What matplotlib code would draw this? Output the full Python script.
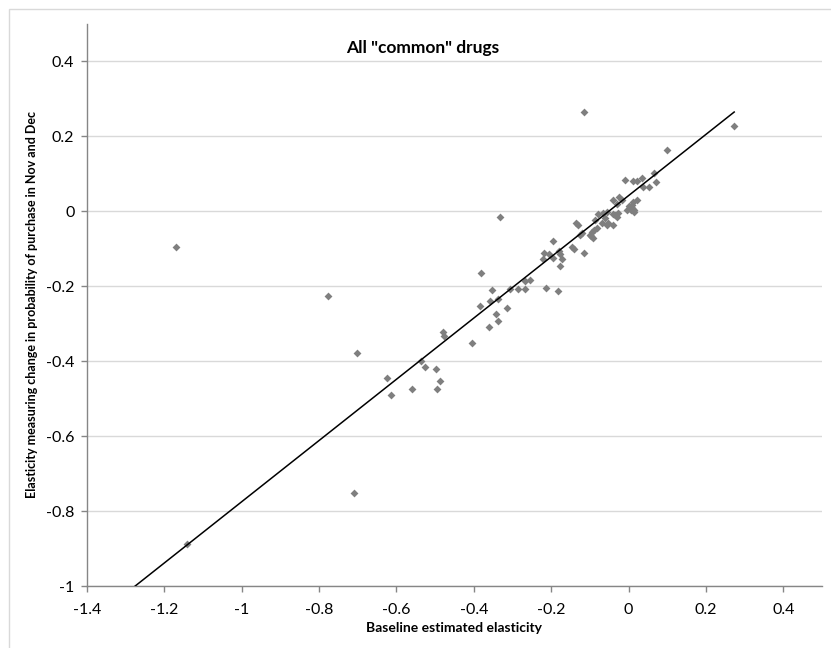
import matplotlib
matplotlib.use('Agg')
import matplotlib.pyplot as plt
from matplotlib.patches import Rectangle
import numpy as np

plt.rcParams['font.family'] = ['Lato', 'DejaVu Sans']

# Baseline elasticity (x) vs elasticity of Nov/Dec purchase probability (y)
baseline = [
    -1.171, -1.142, -0.776, -0.702, -0.709, -0.624, -0.613, -0.559, -0.537, -0.526,
    -0.498, -0.487, -0.496, -0.479, -0.476, -0.404, -0.383, -0.381, -0.360, -0.359,
    -0.354, -0.344, -0.338, -0.338, -0.332, -0.314, -0.306, -0.287, -0.269, -0.267,
    -0.254, -0.222, -0.219, -0.213, -0.205, -0.196, -0.195, -0.182, -0.180, -0.177,
    -0.176, -0.171, -0.146, -0.142, -0.135, -0.130, -0.125, -0.120, -0.114, -0.114,
    -0.100, -0.097, -0.094, -0.093, -0.089, -0.088, -0.082, -0.078, -0.069, -0.066,
    -0.062, -0.057, -0.057, -0.052, -0.041, -0.041, -0.041, -0.035, -0.031, -0.031,
    -0.027, -0.024, -0.017, -0.008, -0.004, 0.002, 0.005, 0.008, 0.010, 0.012,
    0.012, 0.013, 0.015, 0.021, 0.022, 0.035, 0.036, 0.054, 0.066, 0.070,
    0.100, 0.273,
]
nov_dec = [
    -0.095, -0.889, -0.225, -0.377, -0.752, -0.445, -0.489, -0.473, -0.400, -0.416,
    -0.421, -0.453, -0.474, -0.323, -0.334, -0.352, -0.253, -0.165, -0.308, -0.239,
    -0.210, -0.273, -0.292, -0.234, -0.014, -0.257, -0.206, -0.208, -0.206, -0.185,
    -0.184, -0.127, -0.111, -0.205, -0.114, -0.125, -0.080, -0.212, -0.105, -0.145,
    -0.113, -0.127, -0.096, -0.100, -0.031, -0.036, -0.063, -0.058, 0.264, -0.111,
    -0.063, -0.067, -0.054, -0.070, -0.049, -0.023, -0.045, -0.006, -0.030, -0.004,
    -0.018, -0.003, -0.036, -0.031, 0.031, -0.008, -0.036, -0.009, 0.020, -0.014,
    -0.005, 0.037, 0.031, 0.084, 0.003, 0.013, 0.004, 0.017, 0.009, 0.026,
    0.081, 0.004, -0.003, 0.081, 0.031, 0.089, 0.064, 0.064, 0.101, 0.079,
    0.164, 0.228,
]

# linear trendline
trend_slope = 0.817
trend_intercept = 0.042

x_ticks = [-1.4, -1.2, -1, -0.8, -0.6, -0.4, -0.2, 0, 0.2, 0.4]
y_ticks = [-1, -0.8, -0.6, -0.4, -0.2, 0, 0.2, 0.4]

W, H = 831, 648
fig = plt.figure(figsize=(W / 100, H / 100), dpi=100)

# chart border (cut off on right and bottom)
fig.patches.append(Rectangle((9 / W, -0.1), 1.2, 1.1 - 9 / H, transform=fig.transFigure,
                             fill=False, edgecolor='#d9d9d9', linewidth=1.0))

ax = fig.add_axes([87 / W, 62 / H, 735 / W, 562 / H])

ax.scatter(baseline, nov_dec, marker='D', s=16, color='#7f7f7f', linewidths=0, zorder=3)

tx = np.array([-1.4, max(baseline)])
ax.plot(tx, trend_intercept + trend_slope * tx, color='black', linewidth=1.1, zorder=4)

ax.set_xlim(-1.4, 0.5)
ax.set_ylim(-1, 0.5)
ax.set_xticks(x_ticks)
ax.set_yticks(y_ticks)
ax.set_xticklabels([f'{v:g}' for v in x_ticks])
ax.set_yticklabels([f'{v:g}' for v in y_ticks])

ax.grid(axis='y', color='#d9d9d9', linewidth=1.0)
ax.set_axisbelow(True)
for s in ['top', 'right']:
    ax.spines[s].set_visible(False)
for s in ['left', 'bottom']:
    ax.spines[s].set_color('#868686')
    ax.spines[s].set_linewidth(1.0)
ax.tick_params(axis='both', colors='#868686', labelcolor='black', labelsize=11.5,
               length=4, width=1.0)
ax.tick_params(axis='x', pad=8)
ax.tick_params(axis='y', pad=5)

ax.set_xlabel('Baseline estimated elasticity', fontsize=10, fontweight='bold', labelpad=4)
ax.set_ylabel('Elasticity measuring change in probability of purchase in Nov and Dec',
              fontsize=9, fontweight='bold')
ax.yaxis.set_label_coords(-0.066, 0.5)

fig.text(423 / W, 1 - 48 / H, 'All "common" drugs', fontsize=12.5, fontweight='bold',
         ha='center', va='center')

fig.savefig('out.png', dpi=100)
